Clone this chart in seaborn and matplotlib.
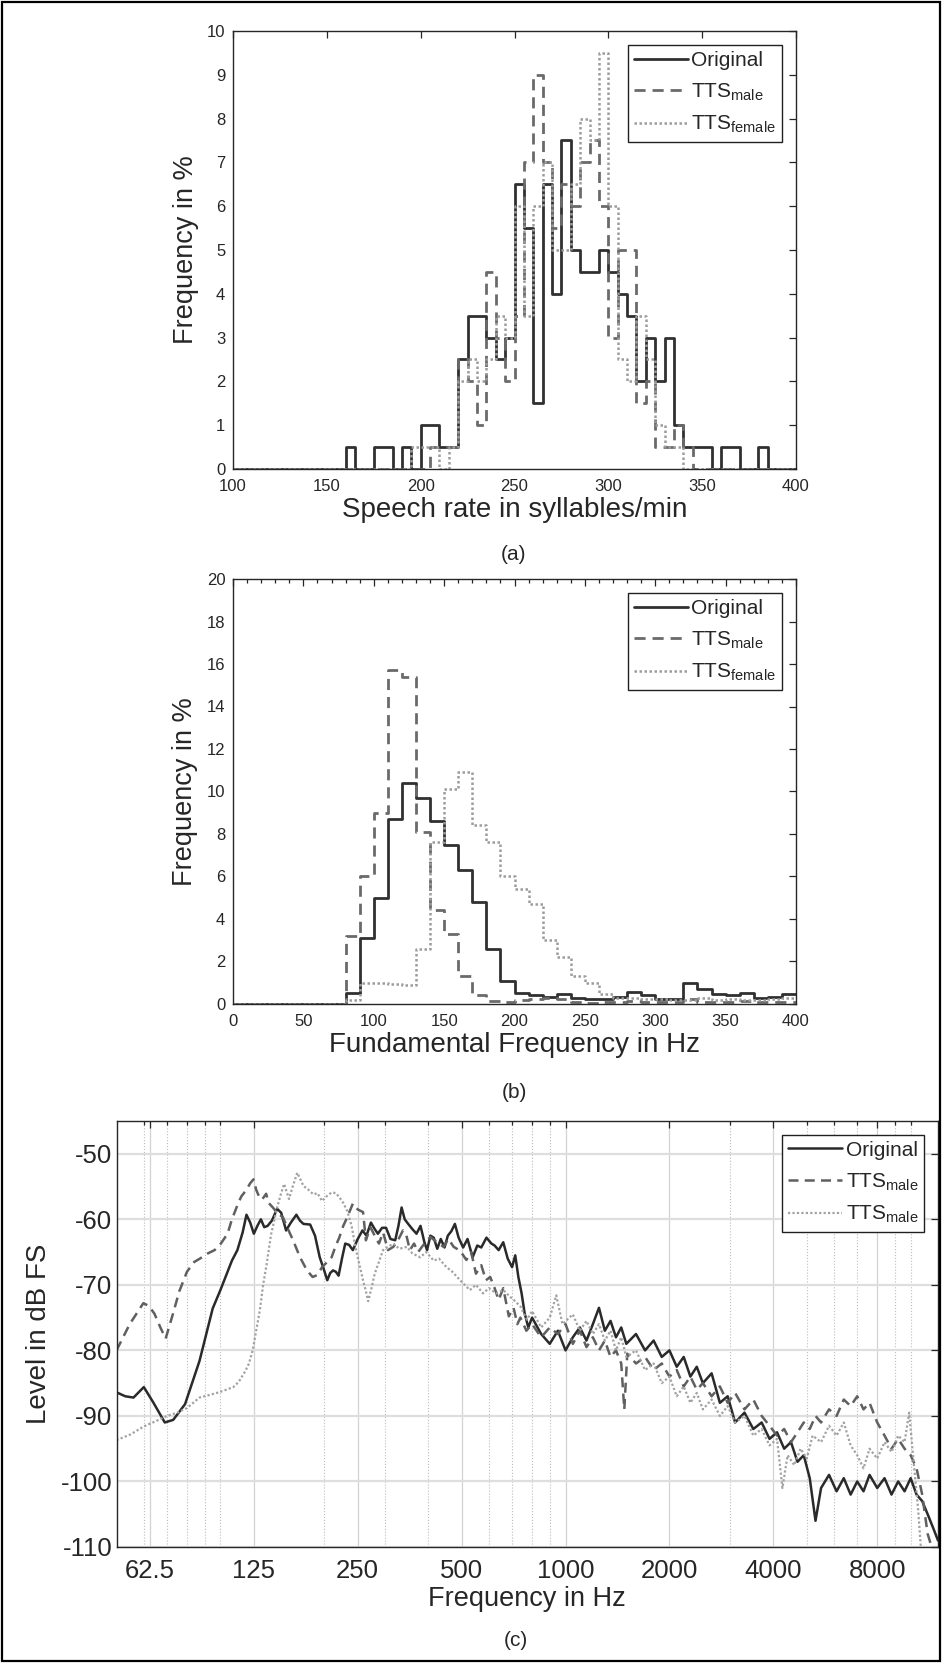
import matplotlib
matplotlib.use("Agg")
import matplotlib.pyplot as plt
from matplotlib.patches import Rectangle
from matplotlib.ticker import MultipleLocator, FixedLocator, FixedFormatter, NullFormatter
import seaborn as sns

# ---------------- (a) speech rate histogram, bins of 5 syllables/min ----------------
rate_edges = list(range(100, 400, 5))
rate_original = [0, 0, 0, 0, 0, 0, 0, 0, 0, 0, 0, 0,
                 0.5, 0, 0, 0.5, 0.5, 0, 0.5, 0,
                 1.0, 1.0, 0.5, 0.5, 2.5, 3.5, 3.5, 3.0, 2.5, 3.0,
                 6.5, 5.5, 1.5, 6.5, 4.0, 7.5, 5.0, 4.5, 4.5, 5.0,
                 4.5, 4.0, 3.5, 2.0, 3.0, 2.0, 3.0, 1.0, 0.5, 0.5,
                 0.5, 0, 0.5, 0.5, 0, 0, 0.5, 0, 0, 0]
rate_male = [0, 0, 0, 0, 0, 0, 0, 0, 0, 0, 0, 0, 0, 0, 0, 0, 0, 0, 0, 0,
             0, 0.5, 0.5, 0.5, 2.5, 2.0, 1.0, 4.5, 3.0, 2.0,
             3.5, 7.0, 9.0, 7.0, 5.5, 6.5, 6.0, 7.0, 7.5, 6.0,
             3.0, 5.0, 5.0, 1.5, 2.0, 0.5, 0.5, 1.0, 0.5, 0,
             0, 0, 0, 0, 0, 0, 0, 0, 0, 0]
rate_female = [0, 0, 0, 0, 0, 0, 0, 0, 0, 0, 0, 0, 0, 0, 0, 0, 0, 0, 0, 0.5,
               0.5, 0.5, 0, 0.5, 2.0, 2.5, 2.0, 2.5, 3.5, 3.0,
               6.0, 3.5, 6.0, 7.0, 5.0, 5.0, 6.5, 8.0, 7.5, 9.5,
               6.0, 2.5, 2.0, 3.5, 2.5, 1.0, 0.5, 0.5, 0, 0,
               0, 0, 0, 0, 0, 0, 0, 0, 0, 0]

# ---------------- (b) F0 histogram, bins of 10 Hz ----------------
f0_edges = list(range(0, 400, 10))
f0_original = [0, 0, 0, 0, 0, 0, 0, 0, 0.5, 3.1,
               5.0, 8.7, 10.4, 9.7, 8.6, 7.5, 6.3, 4.8, 2.6, 1.1,
               0.5, 0.4, 0.35, 0.45, 0.3, 0.25, 0.25, 0.35, 0.55, 0.4,
               0.25, 0.25, 1.0, 0.7, 0.45, 0.4, 0.5, 0.3, 0.35, 0.45]
f0_male = [0, 0, 0, 0, 0, 0, 0, 0, 3.2, 6.0,
           9.0, 15.7, 15.4, 8.1, 4.4, 3.3, 1.3, 0.4, 0.15, 0.1,
           0.2, 0.25, 0.3, 0.25, 0.1, 0.05, 0.1, 0.1, 0.15, 0.1,
           0.1, 0.1, 0.25, 0.1, 0.1, 0.1, 0.15, 0.1, 0.1, 0.1]
f0_female = [0, 0, 0, 0, 0, 0, 0, 0, 0.2, 1.0,
             1.0, 0.95, 0.9, 2.6, 7.6, 10.1, 10.9, 8.4, 7.6, 6.0,
             5.4, 4.7, 3.0, 2.2, 1.3, 1.0, 0.45, 0.3, 0.3, 0.25,
             0.25, 0.2, 0.2, 0.3, 0.2, 0.25, 0.2, 0.2, 0.25, 0.3]

# ---------------- (c) long-term spectra ----------------
orig_freq = [50, 53, 56, 60, 64, 69, 73, 79, 87, 95,
             100, 104, 108, 112, 116, 119, 122, 125, 128, 131,
             134, 137, 141, 146, 150, 155, 160, 166, 170, 174,
             182, 188, 194, 199, 204, 208, 212, 216, 220, 225,
             230, 236, 242, 250, 258, 265, 273, 280, 286, 294,
             302, 311, 321, 328, 335, 342, 350, 360, 370, 380,
             390, 397, 406, 415, 425, 435, 446, 456, 467, 478,
             490, 505, 520, 538, 555, 570, 590, 610, 623, 640,
             660, 680, 700, 715, 730, 746, 761, 780, 800, 850,
             900, 950, 1000, 1050, 1100, 1150, 1200, 1250, 1300, 1350,
             1400, 1450, 1500, 1600, 1700, 1800, 1900, 2000, 2100, 2200,
             2300, 2400, 2500, 2650, 2800, 2950, 3100, 3300, 3500, 3700,
             3900, 4100, 4300, 4500, 4700, 4900, 5100, 5300, 5500, 5800,
             6100, 6400, 6700, 7000, 7300, 7600, 8000, 8400, 8800, 9200,
             9600, 10000, 10400, 10800, 11200, 11600, 12000]
orig_level = [-86.4, -87.0, -87.2, -85.6, -88.0, -91.0, -90.6, -88.2, -81.6, -73.6,
              -70.8, -68.5, -66.3, -64.7, -62.0, -59.3, -60.5, -62.2, -61.0, -60.0,
              -61.2, -61.0, -60.2, -58.4, -59.0, -61.7, -60.5, -59.3, -60.2, -60.7,
              -60.8, -62.5, -65.8, -67.5, -69.3, -68.2, -67.8, -68.0, -68.6, -66.0,
              -63.7, -63.9, -64.7, -63.0, -61.7, -62.5, -60.5, -61.5, -62.2, -61.3,
              -61.3, -63.0, -63.2, -61.0, -58.2, -60.0, -60.7, -61.5, -62.2, -61.0,
              -63.5, -64.7, -62.5, -62.8, -64.5, -63.0, -64.3, -62.5, -61.8, -60.7,
              -62.8, -64.3, -63.0, -65.8, -64.0, -64.3, -62.8, -63.7, -64.0, -64.7,
              -63.5, -66.0, -67.3, -65.5, -68.8, -71.3, -74.3, -76.5, -75.0, -77.5,
              -79.0, -77.0, -80.0, -78.0, -76.5, -78.5, -76.0, -73.5, -77.0, -75.5,
              -78.0, -76.5, -79.0, -77.5, -80.0, -78.5, -81.0, -80.0, -82.5, -81.0,
              -84.0, -82.5, -85.0, -83.5, -88.0, -87.0, -91.0, -89.5, -92.0, -91.0,
              -93.5, -92.5, -95.0, -94.0, -97.0, -96.0, -99.5, -106.0, -101.0, -99.0,
              -101.5, -99.5, -102.0, -100.0, -101.5, -99.0, -101.0, -99.5, -102.0, -100.0,
              -101.5, -99.5, -102.0, -103.0, -105.0, -107.0, -109.0]

male_freq = [50, 54.6, 57, 59.8, 62, 64.4, 67, 69.4, 72.9, 76,
             80, 84, 87.2, 92, 96.2, 100, 104.9, 108, 112.5, 115,
             118.6, 122, 124.7, 127, 129.6, 132, 135.7, 138, 141.9, 146,
             151.8, 157, 162.4, 170.1, 178.2, 185, 191, 197, 204, 210,
             216, 221, 227, 233, 238, 242, 250, 259, 264, 272,
             280, 288, 296, 306, 317, 327, 338, 346, 354, 364,
             374, 390, 406, 424, 443, 458, 474, 495, 516, 533,
             550, 570, 588, 605, 623, 640, 660, 685, 707, 725,
             740, 770, 800, 850, 900, 950, 1000, 1050, 1100, 1150,
             1200, 1250, 1300, 1350, 1400, 1450, 1480, 1510, 1600, 1700,
             1800, 1900, 2000, 2100, 2200, 2300, 2400, 2500, 2650, 2800,
             2950, 3100, 3300, 3500, 3700, 3900, 4100, 4300, 4500, 4700,
             4900, 5100, 5300, 5500, 5800, 6100, 6400, 6700, 7000, 7300,
             7600, 8000, 8400, 8800, 9200, 9600, 10000, 10400, 10800, 11200,
             11500]
male_level = [-80.0, -76.0, -74.5, -72.8, -73.2, -74.4, -76.5, -78.2, -74.4, -71.0,
              -68.0, -66.5, -66.0, -65.2, -64.7, -63.8, -62.2, -60.0, -57.6, -56.5,
              -55.6, -54.5, -53.9, -55.5, -56.6, -57.0, -56.1, -57.5, -58.2, -59.0,
              -59.7, -61.5, -63.2, -65.8, -67.8, -68.8, -68.5, -67.3, -66.5, -65.8,
              -64.0, -62.8, -61.0, -59.7, -58.5, -57.6, -58.5, -58.9, -63.2, -61.2,
              -62.5, -63.7, -62.0, -64.7, -64.2, -63.2, -61.7, -62.5, -64.7, -63.7,
              -65.0, -63.7, -62.7, -63.5, -64.2, -63.0, -64.2, -64.8, -66.2, -65.0,
              -68.3, -67.0, -69.3, -68.8, -70.5, -72.3, -70.5, -74.8, -73.5, -76.0,
              -75.0, -77.0, -76.0, -78.0, -76.5, -77.5, -76.0, -79.0, -77.0, -79.5,
              -78.0, -80.0, -78.5, -81.0, -80.0, -82.0, -89.0, -80.5, -82.0, -81.0,
              -83.0, -82.0, -84.0, -83.0, -85.5, -84.0, -86.0, -85.0, -87.0, -85.5,
              -88.0, -86.5, -89.0, -87.5, -90.0, -91.5, -93.0, -92.0, -94.0, -92.5,
              -91.0, -92.0, -90.0, -91.0, -89.0, -90.0, -87.5, -88.5, -87.0, -89.0,
              -88.0, -91.0, -93.0, -95.0, -93.5, -95.0, -96.0, -98.0, -102.0, -108.0,
              -110.0]

female_freq = [50, 55, 60, 65, 70, 75, 80, 87, 93, 99,
               104, 109, 113, 118, 121, 124, 127, 130, 133, 136,
               140, 146, 150, 153, 158, 162, 167, 174, 180, 186,
               191, 197, 203, 210, 216, 221, 227, 233, 240, 246,
               253, 259, 264, 268, 274, 280, 288, 296, 306, 317,
               330, 347, 360, 379, 395, 415, 430, 452, 470, 495,
               510, 528, 550, 577, 600, 630, 660, 690, 715, 740,
               773, 800, 850, 900, 940, 980, 1050, 1100, 1150, 1200,
               1250, 1300, 1350, 1400, 1450, 1500, 1600, 1700, 1800, 1900,
               2000, 2100, 2200, 2300, 2400, 2500, 2650, 2800, 2950, 3100,
               3300, 3500, 3700, 3900, 4100, 4250, 4400, 4600, 4800, 5000,
               5200, 5500, 5800, 6100, 6400, 6700, 7000, 7300, 7600, 8000,
               8400, 8800, 9200, 9600, 9900, 10200, 10500, 10700]
female_level = [-93.7, -92.8, -91.6, -90.8, -90.0, -89.5, -88.8, -87.2, -86.8, -86.4,
                -86.0, -85.6, -84.8, -83.2, -82.0, -80.0, -77.0, -74.0, -70.0, -67.0,
                -62.5, -58.2, -56.0, -54.6, -56.9, -55.0, -52.9, -54.9, -55.5, -56.2,
                -56.0, -57.2, -56.5, -55.9, -56.0, -56.6, -57.5, -58.7, -61.0, -64.2,
                -67.0, -69.3, -71.0, -72.5, -70.5, -68.3, -66.5, -64.7, -64.2, -63.7,
                -64.5, -64.2, -65.2, -65.8, -65.0, -66.3, -66.0, -67.3, -68.0, -69.3,
                -70.0, -70.8, -70.0, -71.3, -70.5, -71.3, -70.8, -71.8, -72.5, -73.3,
                -75.3, -74.0, -76.5, -75.0, -71.6, -76.0, -74.5, -77.0, -75.5, -77.5,
                -76.0, -78.5, -77.0, -80.0, -78.0, -81.0, -80.0, -83.0, -82.0, -85.0,
                -84.0, -87.0, -85.5, -88.0, -86.5, -89.0, -87.5, -90.0, -88.5, -91.0,
                -90.0, -93.0, -92.0, -94.5, -93.5, -101.0, -96.0, -97.5, -95.0, -96.5,
                -93.0, -94.0, -91.5, -93.0, -91.0, -94.5, -96.0, -98.0, -95.0, -96.5,
                -94.0, -95.5, -93.0, -94.0, -89.5, -97.0, -104.0, -110.0]

spec_ticks = [62.5, 125, 250, 500, 1000, 2000, 4000, 8000]
spec_tick_labels = ['62.5', '125', '250', '500', '1000', '2000', '4000', '8000']
spec_minor = [60, 70, 80, 90, 100, 200, 300, 400, 600, 700, 800, 900,
              3000, 5000, 6000, 7000, 9000, 10000]

labels_ab = ['Original', 'TTS$_{\\mathrm{male}}$', 'TTS$_{\\mathrm{female}}$']
labels_c = ['Original', 'TTS$_{\\mathrm{male}}$', 'TTS$_{\\mathrm{male}}$']

# ---------------- style ----------------
sns.set_theme(style="white")
plt.rcParams['font.family'] = ['Liberation Sans', 'DejaVu Sans']
plt.rcParams['mathtext.fontset'] = 'custom'
plt.rcParams['mathtext.rm'] = 'Liberation Sans'
plt.rcParams['mathtext.it'] = 'Liberation Sans:italic'
plt.rcParams['mathtext.bf'] = 'Liberation Sans:bold'
plt.rcParams['axes.unicode_minus'] = False

col_orig = '#303030'
col_male = '#6a6a6a'
col_female = '#9c9c9c'
ls_male = (0, (4, 2.5))
ls_female = (0, (1, 1))

W, H = 942, 1663
fig = plt.figure(figsize=(W / 100, H / 100), dpi=100)


def box(left, top, right, bottom):
    return [left / W, 1 - bottom / H, (right - left) / W, (bottom - top) / H]


def style_axes(ax, size, xpad, ypad):
    for s in ax.spines.values():
        s.set_color('#262626')
        s.set_linewidth(1.0)
    ax.tick_params(which='both', direction='in', top=True, right=True,
                   colors='#262626', labelsize=size, width=0.9)
    ax.tick_params(which='major', length=5)
    ax.tick_params(which='minor', length=3)
    ax.tick_params(axis='x', which='both', pad=xpad)
    ax.tick_params(axis='y', which='both', pad=ypad)


def add_legend(ax, labels):
    leg = ax.legend(ax.get_lines()[:3], labels, loc='upper right', fontsize=15,
                    frameon=True, fancybox=False, framealpha=1, edgecolor='#202020',
                    borderpad=0.3, labelspacing=0.55, handlelength=2.6,
                    handletextpad=0.15, borderaxespad=0.65)
    leg.get_frame().set_linewidth(1.0)
    return leg


def step_panel(ax, edges, end, series):
    for (vals, col, ls, lw, lab) in series:
        xs = edges + [end]
        ys = vals + [vals[-1]]
        sns.lineplot(x=xs, y=ys, ax=ax, color=col, linestyle=ls, linewidth=lw,
                     drawstyle='steps-post', label=lab)


# (a)
ax_a = fig.add_axes(box(233, 31, 796, 469))
step_panel(ax_a, rate_edges, 400, [
    (rate_original, col_orig, '-', 2.0, labels_ab[0]),
    (rate_male, col_male, ls_male, 2.0, labels_ab[1]),
    (rate_female, col_female, ls_female, 1.8, labels_ab[2]),
])
ax_a.set_xlim(100, 400)
ax_a.set_ylim(0, 10)
ax_a.xaxis.set_major_locator(MultipleLocator(50))
ax_a.yaxis.set_major_locator(MultipleLocator(1))
style_axes(ax_a, 12, 7, 5.5)
ax_a.set_xlabel('Speech rate in syllables/min', fontsize=20, labelpad=2.5)
ax_a.set_ylabel('Frequency in %', fontsize=19.5, labelpad=6)
add_legend(ax_a, labels_ab)
fig.text(514 / W, 1 - 555 / H, '(a)', ha='center', va='center', fontsize=15)

# (b)
ax_b = fig.add_axes(box(233, 579, 796, 1004))
step_panel(ax_b, f0_edges, 400, [
    (f0_original, col_orig, '-', 2.0, labels_ab[0]),
    (f0_male, col_male, ls_male, 2.0, labels_ab[1]),
    (f0_female, col_female, ls_female, 1.8, labels_ab[2]),
])
ax_b.set_xlim(0, 400)
ax_b.set_ylim(0, 20)
ax_b.xaxis.set_major_locator(MultipleLocator(50))
ax_b.xaxis.set_minor_locator(MultipleLocator(10))
ax_b.yaxis.set_major_locator(MultipleLocator(2))
style_axes(ax_b, 12, 7, 5.5)
ax_b.set_xlabel('Fundamental Frequency in Hz', fontsize=20, labelpad=2.5)
ax_b.set_ylabel('Frequency in %', fontsize=19.5, labelpad=6)
add_legend(ax_b, labels_ab)
fig.text(514 / W, 1 - 1092 / H, '(b)', ha='center', va='center', fontsize=15)

# (c)
ax_c = fig.add_axes(box(116.5, 1121, 938, 1547))
sns.lineplot(x=orig_freq, y=orig_level, ax=ax_c, color='#2a2a2a', linewidth=1.8,
             label=labels_c[0])
sns.lineplot(x=male_freq, y=male_level, ax=ax_c, color='#606060', linewidth=1.8,
             linestyle=ls_male, label=labels_c[1])
sns.lineplot(x=female_freq, y=female_level, ax=ax_c, color='#a2a2a2', linewidth=1.6,
             linestyle=ls_female, label=labels_c[2])
ax_c.set_xscale('log')
ax_c.set_xlim(50, 12000)
ax_c.set_ylim(-110, -45)
ax_c.xaxis.set_major_locator(FixedLocator(spec_ticks))
ax_c.xaxis.set_major_formatter(FixedFormatter(spec_tick_labels))
ax_c.xaxis.set_minor_locator(FixedLocator(spec_minor))
ax_c.xaxis.set_minor_formatter(NullFormatter())
ax_c.yaxis.set_major_locator(MultipleLocator(10))
ax_c.yaxis.set_minor_locator(FixedLocator([]))
style_axes(ax_c, 18.5, 8.5, 3)
ax_c.set_axisbelow(True)
ax_c.grid(True, which='major', axis='y', color='#dedede', linewidth=1.6)
ax_c.grid(True, which='major', axis='x', color='#d2d2d2', linewidth=0.9)
ax_c.grid(True, which='minor', axis='x', color='#bdbdbd', linewidth=0.8, linestyle=':')
ax_c.set_xlabel('Frequency in Hz', fontsize=19.5, labelpad=2.5)
ax_c.set_ylabel('Level in dB FS', fontsize=20, labelpad=6)
add_legend(ax_c, labels_c)
fig.text(516 / W, 1 - 1640 / H, '(c)', ha='center', va='center', fontsize=15)

# frame around the whole figure
fig.patches.append(Rectangle((0.002, 0.0012), 0.996, 0.9976, transform=fig.transFigure,
                             fill=False, edgecolor='black', linewidth=1.6))

fig.savefig('out.png', dpi=100)
